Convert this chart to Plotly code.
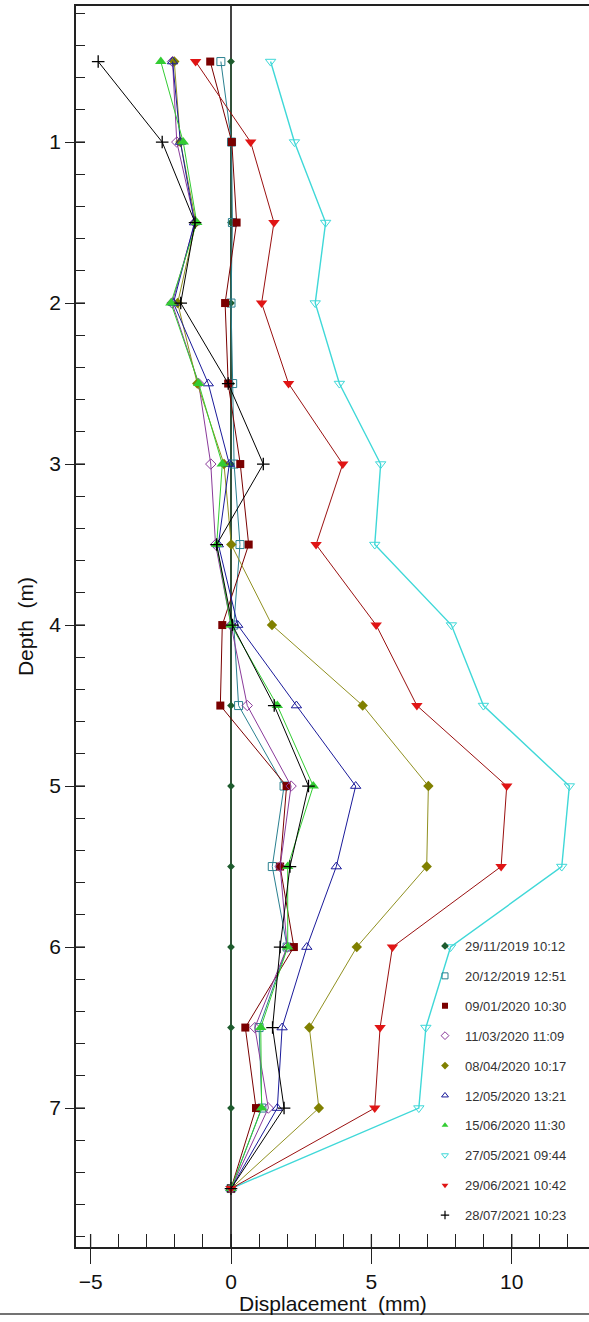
import plotly.graph_objects as go

depth = [0.5, 1.0, 1.5, 2.0, 2.5, 3.0, 3.5, 4.0, 4.5, 5.0, 5.5, 6.0, 6.5, 7.0, 7.5]

labels = [
    "29/11/2019 10:12", "20/12/2019 12:51", "09/01/2020 10:30", "11/03/2020 11:09",
    "08/04/2020 10:17", "12/05/2020 13:21", "15/06/2020 11:30", "27/05/2021 09:44",
    "29/06/2021 10:42", "28/07/2021 10:23",
]

s_20191129 = [0, 0, 0, 0, 0, 0, 0, 0, 0, 0, 0, 0, 0, 0, 0]
s_20191220 = [-0.36, 0.02, 0.05, 0.0, 0.06, 0.11, 0.32, 0.10, 0.27, 1.89, 1.47, 2.00, 1.00, 1.10, 0]
s_20200109 = [-0.74, 0.03, 0.20, -0.21, -0.10, 0.33, 0.63, -0.31, -0.38, 1.98, 1.75, 2.24, 0.51, 0.89, 0]
s_20200311 = [-2.08, -1.93, -1.28, -2.10, -1.15, -0.72, -0.55, 0.0, 0.58, 2.14, 1.75, 2.00, 0.85, 1.33, 0]
s_20200408 = [-2.02, -1.80, -1.25, -1.90, -1.20, -0.25, 0.01, 1.46, 4.69, 7.03, 6.97, 4.48, 2.79, 3.13, 0]
s_20200512 = [-2.08, -1.80, -1.30, -2.05, -0.81, -0.06, -0.45, 0.24, 2.33, 4.44, 3.75, 2.70, 1.82, 1.65, 0]
s_20200615 = [-2.50, -1.70, -1.22, -2.14, -1.15, -0.31, -0.51, 0.0, 1.65, 2.93, 2.02, 2.02, 1.06, 1.09, 0]
s_20210527 = [1.41, 2.26, 3.37, 3.00, 3.86, 5.33, 5.12, 7.85, 8.99, 12.05, 11.78, 7.82, 6.94, 6.69, 0]
s_20210629 = [-1.26, 0.70, 1.53, 1.09, 2.05, 3.98, 3.03, 5.17, 6.62, 9.82, 9.62, 5.75, 5.31, 5.12, 0]
s_20210728 = [-4.73, -2.45, -1.28, -1.79, -0.10, 1.15, -0.51, 0.05, 1.54, 2.76, 2.10, 1.75, 1.48, 1.89, 0]

series = [s_20191129, s_20191220, s_20200109, s_20200311, s_20200408,
          s_20200512, s_20200615, s_20210527, s_20210629, s_20210728]

x_major_ticks = [-5, 0, 5, 10]
y_major_ticks = [1, 2, 3, 4, 5, 6, 7]

styles = [
    dict(symbol="diamond", mcolor="#1e5c2e", lcolor="#1e5c2e", size=6, lw=1),
    dict(symbol="square-open", mcolor="#2a8090", lcolor="#2a8090", size=8, lw=1),
    dict(symbol="square", mcolor="#7a0000", lcolor="#7a0000", size=8, lw=1),
    dict(symbol="diamond-open", mcolor="#8a3a9a", lcolor="#8a3a9a", size=8, lw=1),
    dict(symbol="diamond", mcolor="#808000", lcolor="#909020", size=8, lw=1),
    dict(symbol="triangle-up-open", mcolor="#1a1a9a", lcolor="#1a1a9a", size=9, lw=1),
    dict(symbol="triangle-up", mcolor="#33cc33", lcolor="#33cc33", size=10, lw=1),
    dict(symbol="triangle-down-open", mcolor="#3fd8d8", lcolor="#3fd8d8", size=9, lw=1.4),
    dict(symbol="triangle-down", mcolor="#e01515", lcolor="#9a1010", size=10, lw=1),
    dict(symbol="cross-thin", mcolor="#000000", lcolor="#000000", size=9, lw=1),
]

FONT = "Arial, Liberation Sans, sans-serif"

fig = go.Figure()

for vals, st in zip(series, styles):
    mk = dict(symbol=st["symbol"], size=st["size"], color=st["mcolor"])
    if st["symbol"] == "cross-thin":
        mk["line"] = dict(color=st["mcolor"], width=1.3)
    fig.add_trace(go.Scatter(
        x=vals, y=depth, mode="lines+markers",
        line=dict(color=st["lcolor"], width=st["lw"]),
        marker=mk, showlegend=False, hoverinfo="skip",
    ))

# legend entries (marker only)
for i, (lab, st) in enumerate(zip(labels, styles)):
    mk = dict(symbol=st["symbol"], size=6, color=st["mcolor"])
    if st["symbol"] == "cross-thin":
        mk["line"] = dict(color=st["mcolor"], width=1.2)
    fig.add_trace(go.Scatter(
        x=[None], y=[None], mode="markers", marker=mk, name=lab,
        legendgroup=f"g{i}", showlegend=True,
    ))

W, H = 589, 1322
L, R, T, B = 76, 0, 6, 75
pw = W - L - R
ph = H - T - B

def px_to_paper_y(py):
    return (H - B - py) / ph

def px_to_paper_x(px):
    return (px - L) / pw

fig.update_layout(
    width=W, height=H,
    margin=dict(l=L, r=R, t=T, b=B, pad=0, autoexpand=False),
    paper_bgcolor="white", plot_bgcolor="white",
    font=dict(family=FONT, color="#1a1a1a", size=21),
    xaxis=dict(
        range=[-5.52, 12.75], tickmode="linear", tick0=0, dtick=5,
        ticks="outside", ticklen=15, tickwidth=1.3, tickcolor="#222",
        showline=True, linecolor="#222", linewidth=1.5, mirror=True,
        showgrid=False, zeroline=True, zerolinecolor="#444", zerolinewidth=1.6,
        tickfont=dict(size=21, family=FONT, color="#111"), automargin=False,
        minor=dict(ticks="inside", ticklen=13, dtick=1, tick0=0, tickwidth=1.2,
                   tickcolor="#222", showgrid=False),
    ),
    yaxis=dict(
        range=[7.863, 0.155], tickmode="linear", tick0=0, dtick=1,
        ticks="outside", ticklen=9, tickwidth=1.3, tickcolor="#222",
        showline=True, linecolor="#222", linewidth=1.5, mirror=False,
        showgrid=False, zeroline=False, automargin=False,
        tickfont=dict(size=21, family=FONT, color="#111"),
        title=dict(text="Depth  (m)", font=dict(size=21, family=FONT, color="#111"), standoff=10),
        minor=dict(ticks="inside", ticklen=9, dtick=0.2, tick0=0, tickwidth=1.2,
                   tickcolor="#222", showgrid=False),
    ),
    legend=dict(
        x=px_to_paper_x(425), y=px_to_paper_y(931), xanchor="left", yanchor="top",
        bgcolor="rgba(255,255,255,0)", borderwidth=0,
        font=dict(size=13, family=FONT, color="#333"),
        tracegroupgap=10, traceorder="grouped", itemsizing="trace",
    ),
    showlegend=True,
)

# inside half of the major (crossing) ticks
for xv in x_major_ticks:
    fig.add_shape(type="line", xref="x", yref="paper", ysizemode="pixel", yanchor=0,
                  x0=xv, x1=xv, y0=0, y1=13, line=dict(color="#222", width=1.3))
for yv in y_major_ticks:
    fig.add_shape(type="line", xref="paper", yref="y", xsizemode="pixel", xanchor=0,
                  x0=0, x1=9, y0=yv, y1=yv, line=dict(color="#222", width=1.3))

fig.add_annotation(
    text="Displacement  (mm)", xref="paper", yref="paper",
    x=0.5, y=px_to_paper_y(1303), xanchor="center", yanchor="middle",
    showarrow=False, font=dict(size=21, family=FONT, color="#111"),
)

fig.add_shape(
    type="line", xref="paper", yref="paper",
    x0=px_to_paper_x(0), x1=1, y0=px_to_paper_y(1314), y1=px_to_paper_y(1314),
    line=dict(color="#444", width=1.5), layer="above",
)

fig.write_html("out.html", post_script="document.body.style.margin='0';",
               config={"displayModeBar": False})
